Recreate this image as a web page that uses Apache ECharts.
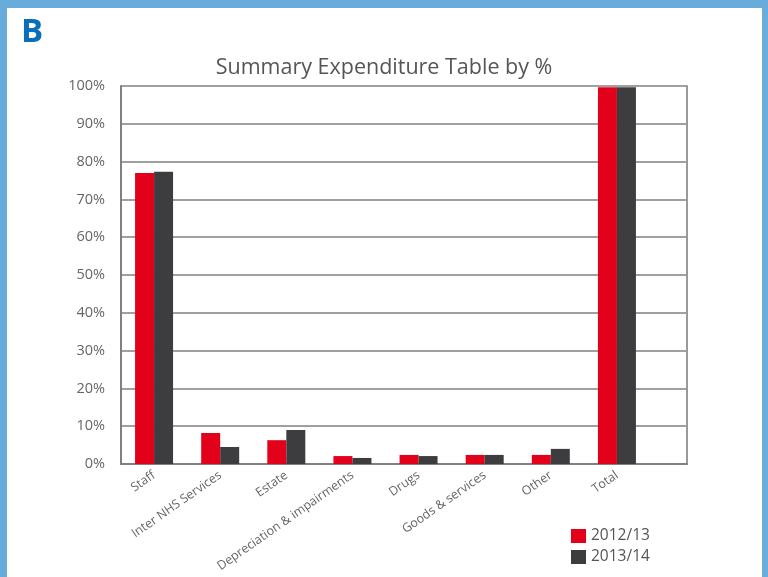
<!DOCTYPE html>
<html>
<head>
<meta charset="utf-8">
<script src="https://cdn.jsdelivr.net/npm/echarts@6/dist/echarts.min.js"></script>
<style>
html,body{margin:0;padding:0;background:#fff;}
#c{width:768px;height:577px;}
</style>
</head>
<body>
<div id="c"></div>
<script>
var categories = ['Staff', 'Inter NHS Services', 'Estate', 'Depreciation & impairments', 'Drugs', 'Goods & services', 'Other', 'Total'];
var series2012 = [77.0, 8.2, 6.3, 2.1, 2.4, 2.4, 2.4, 99.7];
var series2013 = [77.3, 4.5, 9.0, 1.6, 2.1, 2.4, 4.0, 99.7];
var seriesNames = ['2012/13', '2013/14'];
var yTicks = [0, 10, 20, 30, 40, 50, 60, 70, 80, 90, 100];

var chart = echarts.init(document.getElementById('c'), null, {renderer: 'canvas'});
var font = '"Open Sans", "Noto Sans", sans-serif';
chart.setOption({
  animation: false,
  backgroundColor: '#fff',
  textStyle: {fontFamily: font},
  title: {
    text: 'Summary Expenditure Table by %',
    left: 'center',
    top: 52,
    textStyle: {fontFamily: font, fontSize: 21.5, fontWeight: 'normal', color: '#555'}
  },
  graphic: [
    {type: 'rect', left: 0, top: 0, shape: {width: 7, height: 577}, style: {fill: '#68acdc'}},
    {type: 'rect', left: 0, top: 0, shape: {width: 768, height: 8}, style: {fill: '#68acdc'}},
    {type: 'rect', left: 762, top: 0, shape: {width: 6, height: 577}, style: {fill: '#68acdc'}},
    {type: 'text', left: 21, top: 16, style: {text: 'B', fontFamily: font, fontSize: 33, fontWeight: 'bold', fill: '#0a6fb8'}}
  ],
  legend: {
    orient: 'vertical',
    left: 566,
    top: 523,
    itemWidth: 15,
    itemHeight: 14,
    itemGap: 5,
    icon: 'rect',
    data: seriesNames,
    textStyle: {fontFamily: font, fontSize: 15.5, color: '#555'}
  },
  grid: [
    {left: 121, right: 118, top: 86, bottom: 113, containLabel: false},
    {left: 121, right: 81, top: 86, bottom: 113, containLabel: false}
  ],
  xAxis: [{
    type: 'category',
    gridIndex: 0,
    data: categories,
    axisLine: {show: false},
    axisTick: {show: false},
    axisLabel: {rotate: 35, interval: 0, fontFamily: font, fontSize: 12.4, color: '#666', margin: 10}
  }, {
    type: 'value',
    gridIndex: 1,
    min: 0, max: 1,
    axisLine: {show: true, onZero: false, lineStyle: {color: '#808080', width: 2}},
    axisTick: {show: false},
    axisLabel: {show: false},
    splitLine: {show: false}
  }],
  yAxis: [{
    type: 'value',
    gridIndex: 0,
    min: 0, max: 100, interval: 10,
    axisLine: {show: false},
    axisTick: {show: false},
    splitLine: {show: false},
    axisLabel: {show: false}
  }, {
    type: 'value',
    gridIndex: 1,
    min: 0, max: 100, interval: 10,
    axisLine: {show: true, lineStyle: {color: '#808080', width: 2}},
    axisTick: {show: false},
    splitLine: {show: true, lineStyle: {color: '#808080', width: 1.5}},
    axisLabel: {
      fontFamily: font, fontSize: 14.5, color: '#666', margin: 16, padding: [5, 0, 0, 0],
      formatter: function (v) { return yTicks.indexOf(v) >= 0 ? v + '%' : ''; }
    }
  }, {
    type: 'value',
    gridIndex: 1,
    position: 'right',
    min: 0, max: 100, interval: 10,
    axisLine: {show: true, lineStyle: {color: '#999', width: 2}},
    axisTick: {show: false},
    splitLine: {show: false},
    axisLabel: {show: false}
  }],
  series: [
    {name: seriesNames[0], type: 'bar', xAxisIndex: 0, yAxisIndex: 0, data: series2012, barWidth: 19, barGap: '0%', itemStyle: {color: '#e2001a'}, z: 3},
    {name: seriesNames[1], type: 'bar', xAxisIndex: 0, yAxisIndex: 0, data: series2013, barWidth: 19, barGap: '0%', itemStyle: {color: '#3d3d3f'}, z: 3}
  ]
});
</script>
</body>
</html>
